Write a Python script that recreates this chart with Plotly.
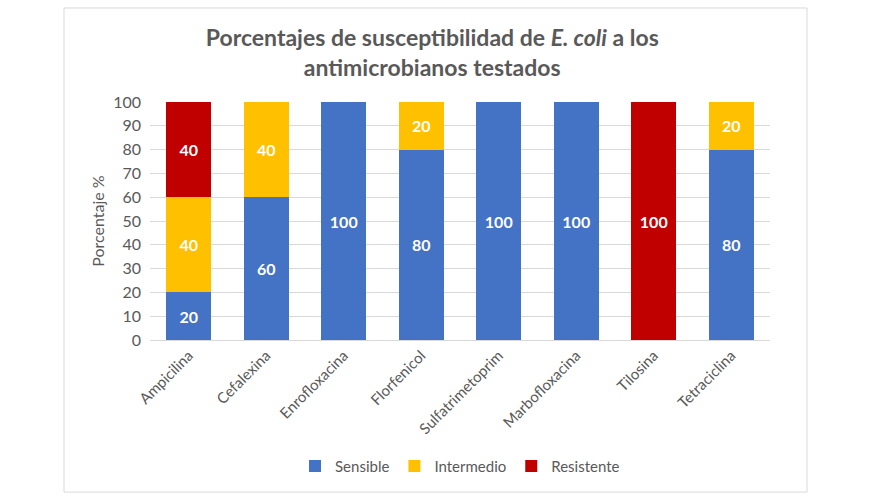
import plotly.graph_objects as go

categories = ["Ampicilina", "Cefalexina", "Enrofloxacina", "Florfenicol",
              "Sulfatrimetoprim", "Marbofloxacina", "Tilosina", "Tetraciclina"]
sensible = [20, 60, 100, 80, 100, 100, 0, 80]
intermedio = [40, 40, 0, 20, 0, 0, 0, 20]
resistente = [40, 0, 0, 0, 0, 0, 100, 0]
y_ticks = [0, 10, 20, 30, 40, 50, 60, 70, 80, 90, 100]

series = [("Sensible", sensible, "#4472C4"),
          ("Intermedio", intermedio, "#FFC000"),
          ("Resistente", resistente, "#C00000")]

FONT = "Lato, 'Open Sans', sans-serif"
fig = go.Figure()
for name, vals, col in series:
    fig.add_trace(go.Bar(
        x=categories, y=vals, name=name, marker_color=col,
        marker_line_width=0,
        text=[str(v) if v else "" for v in vals],
        textposition="inside", insidetextanchor="middle",
        textfont=dict(color="white", size=16, family=FONT),
        texttemplate="<b>%{text}</b>",
    ))

fig.update_layout(
    barmode="stack", bargap=0.42,
    width=875, height=500,
    margin=dict(l=150, r=105, t=102, b=160),
    paper_bgcolor="white", plot_bgcolor="white",
    font=dict(family=FONT, color="#595959", size=14),
    title=dict(text="<b>Porcentajes de susceptibilidad de <i>E. coli</i> a los<br>antimicrobianos testados</b>",
               x=0.494, xanchor="center", y=0.908, yanchor="middle",
               font=dict(size=23, color="#595959", family=FONT)),
    legend=dict(orientation="h", x=0.5, xanchor="center", y=-0.53, yanchor="middle",
                font=dict(size=15, color="#595959"), traceorder="normal",
                itemwidth=30),
    showlegend=True,
    uniformtext=dict(mode="show", minsize=10),
)
fig.update_xaxes(tickangle=-45, showline=True, linecolor="#D9D9D9", linewidth=1,
                 ticks="", tickfont=dict(size=15, color="#595959"))
fig.update_yaxes(range=[0, 100], tickvals=y_ticks, showgrid=True, gridcolor="#D9D9D9",
                 zeroline=False, ticks="", ticklabelstandoff=8,
                 tickfont=dict(size=16, color="#595959"),
                 title=dict(text="Porcentaje %", font=dict(size=16, color="#595959"), standoff=4))

# chart frame border
fig.add_shape(type="rect", xref="paper", yref="paper",
              x0=-0.1387, x1=1.0597, y0=-0.639, y1=1.395,
              line=dict(color="#D9D9D9", width=1), fillcolor="rgba(0,0,0,0)", layer="below")

fig.write_html("out.html")
